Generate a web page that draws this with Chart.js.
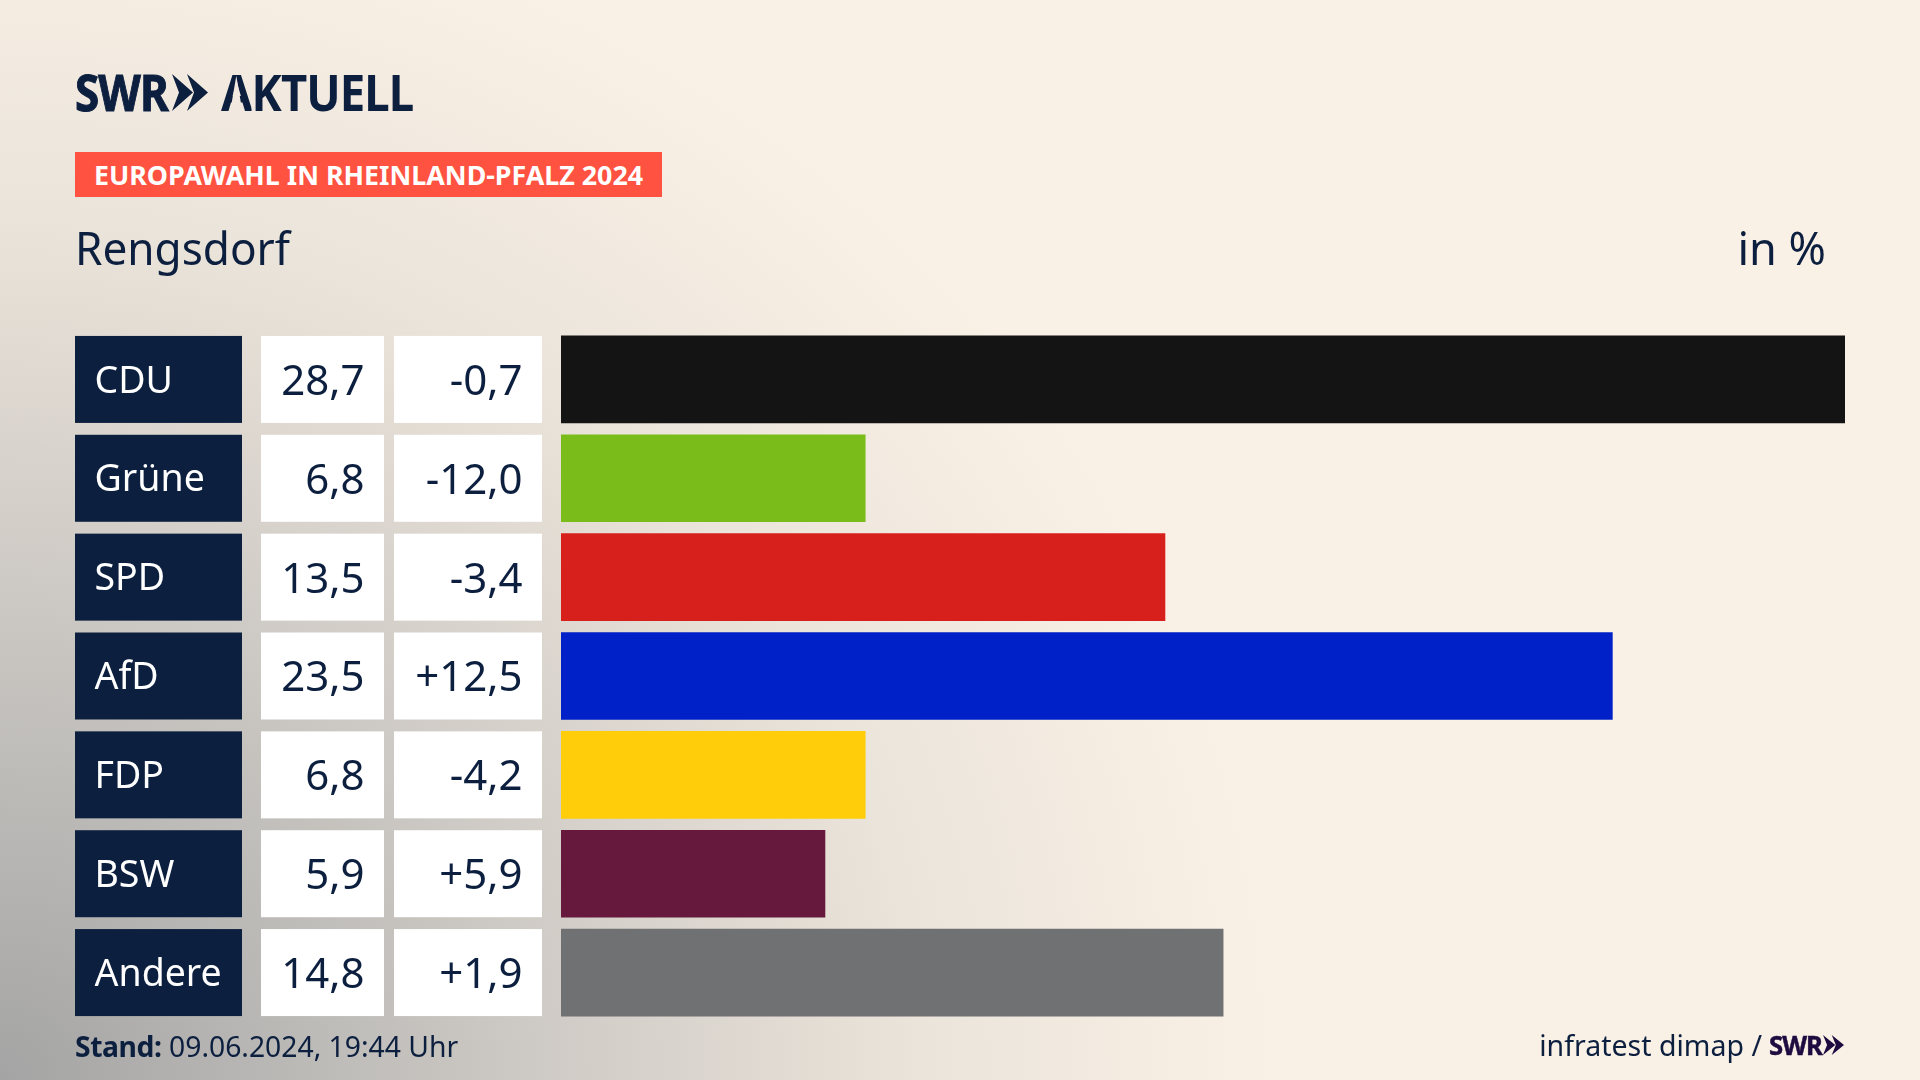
<!DOCTYPE html>
<html lang="de"><head><meta charset="utf-8"><title>Europawahl Rengsdorf</title>
<script src="https://cdn.jsdelivr.net/npm/chart.js@4/dist/chart.umd.min.js"></script>
<style>
html,body{margin:0;padding:0;width:1920px;height:1080px;overflow:hidden}
body{position:relative;background:#FAF1E6;font-family:"Noto Sans",sans-serif;color:#0C1F3F}
#bg{position:absolute;inset:0;background:radial-gradient(ellipse 1280px 1200px at 0 1080px,#a4a4a4 0,#bdbbb8 25%,#d6d1cb 50%,#ebe4da 72%,#FAF1E6 100%)}
canvas{position:absolute;left:0;top:0}
.t{position:absolute;white-space:nowrap;line-height:1}
#logo{left:75px;top:58px;font:700 50px "Noto Sans",sans-serif;transform-origin:0 0;transform:scaleX(.88);letter-spacing:-1px;-webkit-text-stroke:1px #0C1F3F}
#logo2{left:221px;top:58px;font:700 50px "Noto Sans",sans-serif;transform-origin:0 0;transform:scaleX(.91);letter-spacing:-1px}
#logoA{display:inline-block;clip-path:polygon(0 0,100% 0,100% 100%,78% 100%,50% 26%,22% 100%,0 100%)}
#badge{position:absolute;left:75px;top:152px;width:587px;height:45px;background:#FF5240}
#badgeT{left:94px;top:156px;font:700 27.5px "Noto Sans",sans-serif;color:#fff;transform-origin:0 0;transform:scaleX(.975)}
#place{left:75px;top:217px;font:400 45px "Noto Sans",sans-serif;transform-origin:0 0;transform:scaleX(.98)}
#unit{right:94px;top:217px;font:400 45px "Noto Sans",sans-serif}
#stand{left:75px;top:1027px;font:400 28.3px "Noto Sans",sans-serif}
#stand b{letter-spacing:-.4px}
#src{right:158px;top:1026px;font:400 28.5px "Noto Sans",sans-serif}
#swr2{left:1769px;top:1026px;font:700 27px "Noto Sans",sans-serif;color:#1E0B40;letter-spacing:-1px;transform-origin:0 0;transform:scaleX(.95);-webkit-text-stroke:.5px #1E0B40}
svg{position:absolute}
</style></head><body>
<div id="bg"></div>
<canvas id="c" width="1920" height="1080"></canvas>
<div class="t" id="logo">SWR</div>
<svg style="left:172px;top:74px" width="36" height="37" viewBox="0 0 36 36" preserveAspectRatio="none"><path d="M0 0l21 18L0 36l7-18zM15 0l21 18-21 18 7-18z" fill="#0C1F3F"/></svg>
<div class="t" id="logo2"><span id="logoA">A</span>KTUELL</div>
<div id="badge"></div><div class="t" id="badgeT">EUROPAWAHL IN RHEINLAND-PFALZ 2024</div>
<div class="t" id="place">Rengsdorf</div><div class="t" id="unit">in %</div>
<div class="t" id="stand"><b>Stand:</b> 09.06.2024, 19:44 Uhr</div>
<div class="t" id="src">infratest dimap /</div>
<div class="t" id="swr2">SWR</div>
<svg style="left:1823px;top:1035px" width="21" height="20" viewBox="0 0 36 36" preserveAspectRatio="none"><path d="M0 0l21 18L0 36l7-18zM15 0l21 18-21 18 7-18z" fill="#1E0B40"/></svg>
<script>
const parties = ["CDU","Grüne","SPD","AfD","FDP","BSW","Andere"];
const shares = [28.7,6.8,13.5,23.5,6.8,5.9,14.8];
const shareLabels = ["28,7","6,8","13,5","23,5","6,8","5,9","14,8"];
const diffLabels = ["-0,7","-12,0","-3,4","+12,5","-4,2","+5,9","+1,9"];
const barColors = ["#141414","#7ABD1A","#D7201C","#0020C8","#FFCD09","#66183D","#707173"];

const cells = {
  id:"cells",
  beforeDraw(chart){
    const {ctx,scales:{y}} = chart;
    const h = 87;
    ctx.save();
    parties.forEach((p,i)=>{
      const cy = y.getPixelForValue(i), top = cy-h/2;
      ctx.fillStyle="#0C1F3F"; ctx.fillRect(75,top,167,h);
      ctx.fillStyle="#FFFFFF"; ctx.fillRect(261,top,123,h); ctx.fillRect(394,top,148,h);
      ctx.fillStyle="#0C1F3F"; ctx.font='400 42px "Noto Sans"'; ctx.textAlign="right"; ctx.textBaseline="middle";
      ctx.fillText(shareLabels[i],364.5,cy+3.5);
      ctx.fillText(diffLabels[i],522.5,cy+3.5);
    });
    ctx.restore();
  }
};
new Chart(document.getElementById("c"),{
  type:"bar",
  data:{labels:parties,datasets:[{data:shares,backgroundColor:barColors,barThickness:87,borderWidth:0}]},
  plugins:[cells],
  options:{
    indexAxis:"y",responsive:false,animation:false,devicePixelRatio:1,
    layout:{padding:{left:94.5,right:75,top:330,bottom:58}},
    plugins:{legend:{display:false},tooltip:{enabled:false}},
    scales:{
      x:{display:false,min:0,max:28.7},
      y:{afterFit(s){s.width=466.5},grid:{display:false},border:{display:false},
         ticks:{crossAlign:"far",autoSkip:false,color:"#FFFFFF",font:{family:"Noto Sans",size:37.5},padding:0,labelOffset:2.5}}
    }
  }
});
</script>
</body></html>
